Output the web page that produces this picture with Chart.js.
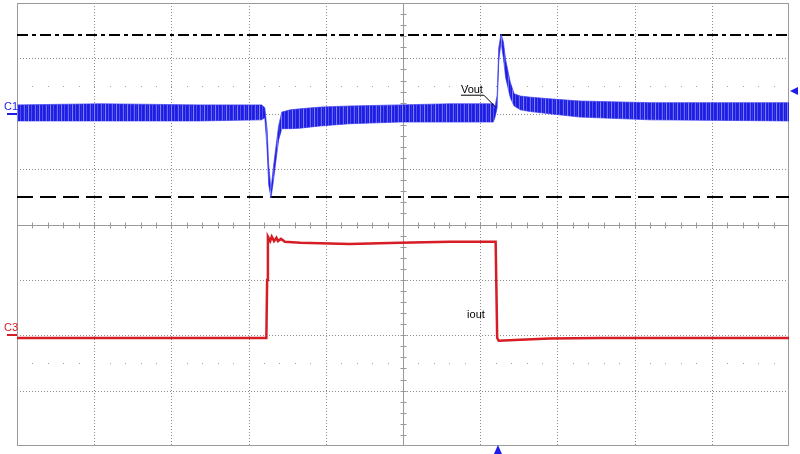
<!DOCTYPE html>
<html>
<head>
<meta charset="utf-8">
<script src="https://cdn.jsdelivr.net/npm/chart.js@4.4.1/dist/chart.umd.min.js"></script>
<style>
  body { margin: 0; background: #fff; }
</style>
</head>
<body>
<canvas id="scope" width="800" height="454"></canvas>
<script>
// all values in screen divisions (10 x 8 grid, centre = 0,0)
var vTime  = [0, 1.08, 2.37, 3.17, 3.21, 3.24, 3.26, 3.29, 3.32, 3.36, 3.39, 3.43, 3.54, 3.67, 3.93, 4.31, 4.96, 5.61, 6.17, 6.19, 6.22, 6.24, 6.27, 6.30, 6.33, 6.39, 6.44, 6.52, 6.65, 6.90, 7.29, 8.20, 10];
var vUpper = [2.16, 2.18, 2.16, 2.16, 2.11, 1.71, 1.08, 0.63, 1.02, 1.47, 1.79, 2.03, 2.07, 2.09, 2.12, 2.14, 2.16, 2.18, 2.18, 2.11, 2.34, 3.19, 3.44, 3.30, 2.97, 2.57, 2.36, 2.32, 2.30, 2.27, 2.23, 2.20, 2.20];
var vLower = [1.87, 1.87, 1.87, 1.89, 1.93, 1.35, 0.72, 0.48, 0.77, 1.22, 1.53, 1.73, 1.73, 1.74, 1.78, 1.82, 1.85, 1.85, 1.85, 1.93, 2.11, 2.94, 3.30, 3.01, 2.65, 2.29, 2.14, 2.07, 2.04, 2.00, 1.94, 1.89, 1.87];

var iTime  = [0, 3.23, 3.24, 3.25, 3.28, 3.30, 3.33, 3.36, 3.38, 3.42, 3.47, 3.67, 4.31, 4.96, 5.61, 6.20, 6.22, 6.24, 6.52, 6.90, 7.55, 10];
var iLevel = [-2.05, -2.05, -1.00, -0.22, -0.30, -0.22, -0.30, -0.24, -0.30, -0.26, -0.31, -0.33, -0.35, -0.33, -0.31, -0.31, -2.05, -2.10, -2.08, -2.06, -2.05, -2.05];

var vMaxLimit = 3.43;   // dash-dot line
var vMinLimit = 0.49;   // dashed line
var ch1Ground = 2;
var ch3Ground = -2;
var trigLevel = 2.41;
var trigTime = 6.23;

function pts(xs, ys) {
  return xs.map(function (x, i) { return { x: x, y: ys[i] }; });
}

var blue = 'rgb(28,28,235)';
var red = 'rgb(214,28,36)';

// striped fill so the noisy trace does not look like a flat ribbon
function noiseFill() {
  var cols = ['#1c1ce0', '#2a2aeb', '#6a6af2', '#1c1ce0', '#3434e6', '#1c1ce0', '#8080f4', '#2424e4', '#1c1ce0', '#5050ee', '#2020e2'];
  var pc = document.createElement('canvas');
  pc.width = cols.length; pc.height = 1;
  var p = pc.getContext('2d');
  cols.forEach(function (col, i) { p.fillStyle = col; p.fillRect(i, 0, 1, 1); });
  return document.getElementById('scope').getContext('2d').createPattern(pc, 'repeat');
}

var scopeDecor = {
  id: 'scopeDecor',
  beforeDatasetsDraw: function (chart) {
    var c = chart.ctx, xs = chart.scales.x, ys = chart.scales.y;
    var a = chart.chartArea;
    c.save();
    c.lineWidth = 1;
    // dotted grid
    c.strokeStyle = '#8c8c8c';
    c.setLineDash([1, 2]);
    for (var i = 1; i < 10; i++) {
      if (i === 5) continue;
      var px = Math.round(xs.getPixelForValue(i)) + 0.5;
      c.beginPath(); c.moveTo(px, a.top); c.lineTo(px, a.bottom); c.stroke();
    }
    for (var j = -3; j <= 3; j++) {
      if (j === 0) continue;
      var py = Math.round(ys.getPixelForValue(j)) + 0.5;
      c.beginPath(); c.moveTo(a.left, py); c.lineTo(a.right, py); c.stroke();
    }
    c.setLineDash([]);
    // rows of dots at +-2.5 div
    c.fillStyle = '#a0a0a0';
    [2.5, -2.5].forEach(function (yv) {
      var py = Math.round(ys.getPixelForValue(yv));
      for (var k = 1; k < 50; k++) {
        c.fillRect(Math.round(xs.getPixelForValue(k * 0.2)), py, 1, 1);
      }
    });
    // centre cross with ticks
    c.strokeStyle = '#999';
    var cx = Math.round(xs.getPixelForValue(5)) + 0.5;
    var cy = Math.round(ys.getPixelForValue(0)) + 0.5;
    c.beginPath();
    c.moveTo(cx, a.top); c.lineTo(cx, a.bottom);
    c.moveTo(a.left, cy); c.lineTo(a.right, cy);
    for (var t = 1; t < 50; t++) {
      var tx = Math.round(xs.getPixelForValue(t * 0.2)) + 0.5;
      c.moveTo(tx, cy - 3); c.lineTo(tx, cy + 3);
    }
    for (var u = 1; u < 40; u++) {
      var ty = Math.round(ys.getPixelForValue(-4 + u * 0.2)) + 0.5;
      c.moveTo(cx - 3, ty); c.lineTo(cx + 3, ty);
    }
    c.stroke();
    // frame
    c.strokeStyle = '#9a9a9a';
    c.strokeRect(a.left + 0.5, a.top + 0.5, a.right - a.left - 1, a.bottom - a.top - 1);
    // limit lines
    c.strokeStyle = '#000';
    c.lineWidth = 2;
    var yMax = Math.round(ys.getPixelForValue(vMaxLimit));
    c.setLineDash([11, 4, 4, 4]);
    c.beginPath(); c.moveTo(a.left, yMax); c.lineTo(a.right, yMax); c.stroke();
    var yMin = Math.round(ys.getPixelForValue(vMinLimit));
    c.setLineDash([16, 7]);
    c.beginPath(); c.moveTo(a.left, yMin); c.lineTo(a.right, yMin); c.stroke();
    c.restore();
  },
  afterDatasetsDraw: function (chart) {
    var c = chart.ctx, xs = chart.scales.x, ys = chart.scales.y;
    var a = chart.chartArea;
    c.save();
    c.font = '11px "Liberation Sans", Arial, sans-serif';
    c.textBaseline = 'alphabetic';
    // channel ground markers
    var g1 = Math.round(ys.getPixelForValue(ch1Ground));
    var g3 = Math.round(ys.getPixelForValue(ch3Ground));
    c.fillStyle = blue;
    c.fillText('C1', 4, g1 - 4);
    c.fillRect(7, g1 - 1, a.left - 7, 2);
    c.fillStyle = red;
    c.fillText('C3', 4, g3 - 4);
    c.fillRect(7, g3 - 1, a.left - 7, 2);
    // trigger level marker (right) and trigger position (bottom)
    c.fillStyle = blue;
    var tl = ys.getPixelForValue(trigLevel);
    c.beginPath(); c.moveTo(a.right + 1, tl); c.lineTo(a.right + 9, tl - 4); c.lineTo(a.right + 9, tl + 4); c.closePath(); c.fill();
    var tp = xs.getPixelForValue(trigTime);
    c.beginPath(); c.moveTo(tp, a.bottom - 1); c.lineTo(tp - 4, a.bottom + 8); c.lineTo(tp + 4, a.bottom + 8); c.closePath(); c.fill();
    // annotations
    c.fillStyle = '#000';
    c.strokeStyle = '#000';
    c.lineWidth = 1;
    var vx = xs.getPixelForValue(5.75), vy = ys.getPixelForValue(2.38);
    c.fillText('Vout', vx, vy);
    c.beginPath();
    c.moveTo(vx, vy + 2.5); c.lineTo(vx + 23, vy + 2.5);
    c.lineTo(xs.getPixelForValue(6.2), ys.getPixelForValue(2.12));
    c.stroke();
    c.fillText('iout', xs.getPixelForValue(5.83), ys.getPixelForValue(-1.69));
    c.restore();
  }
};

new Chart(document.getElementById('scope').getContext('2d'), {
  type: 'line',
  data: {
    datasets: [
      { data: pts(vTime, vUpper), borderColor: 'rgba(60,60,240,0.7)', borderWidth: 1, backgroundColor: noiseFill(), fill: '+1', pointRadius: 0, tension: 0 },
      { data: pts(vTime, vLower), borderColor: 'rgba(60,60,240,0.7)', borderWidth: 1, fill: false, pointRadius: 0, tension: 0 },
      { data: pts(iTime, iLevel), borderColor: red, borderWidth: 2.5, fill: false, pointRadius: 0, tension: 0 }
    ]
  },
  options: {
    responsive: false,
    animation: false,
    layout: { padding: { left: 17, right: 11, top: 3, bottom: 8 } },
    plugins: { legend: { display: false }, tooltip: { enabled: false } },
    scales: {
      x: { type: 'linear', min: 0, max: 10, display: false },
      y: { type: 'linear', min: -4, max: 4, display: false }
    }
  },
  plugins: [scopeDecor]
});
</script>
</body>
</html>
